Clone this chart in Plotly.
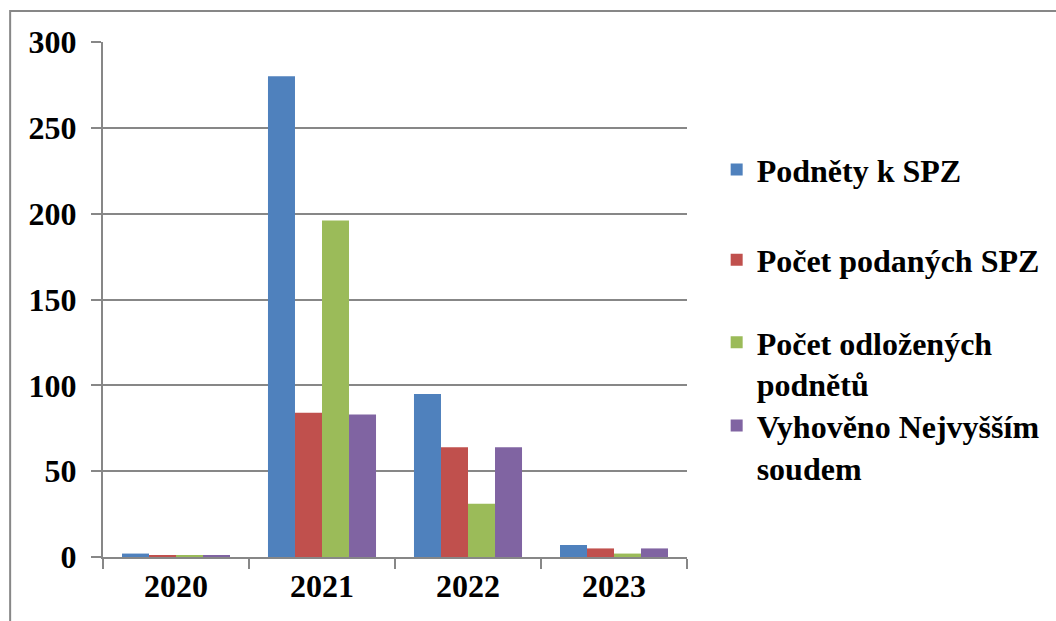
import plotly.graph_objects as go

years = ["2020", "2021", "2022", "2023"]
series_names = ["Podněty k SPZ", "Počet podaných SPZ", "Počet odložených<br>podnětů", "Vyhověno Nejvyšším<br>soudem"]
podnety = [2, 280, 95, 7]
podane = [1, 84, 64, 5]
odlozene = [1, 196, 31, 2]
vyhoveno = [1, 83, 64, 5]
y_ticks = [0, 50, 100, 150, 200, 250, 300]

colors = ["#4F81BD", "#C0504D", "#9BBB59", "#8064A2"]
values = [podnety, podane, odlozene, vyhoveno]
legend_ids = ["legend", "legend2", "legend3", "legend4"]
legend_y = [0.752, 0.577, 0.376, 0.214]

FONT = "Liberation Serif, Times New Roman, serif"
GRAY = "#878787"

fig = go.Figure()
for name, vals, col, lid in zip(series_names, values, colors, legend_ids):
    fig.add_trace(go.Bar(x=years, y=vals, name=name, marker=dict(color=col, line=dict(width=0)),
                         legend=lid))

legend_common = dict(font=dict(family=FONT, size=32, color="black", weight="bold"),
                     bgcolor="rgba(0,0,0,0)", xanchor="left", yanchor="middle", valign="top",
                     itemclick=False)
layout_legends = {}
for lid, ly in zip(legend_ids, legend_y):
    layout_legends[lid] = dict(x=1.049, y=ly, **legend_common)

fig.update_layout(
    width=1056, height=621,
    margin=dict(l=103, r=368, t=42, b=64),
    paper_bgcolor="white", plot_bgcolor="white",
    barmode="group", bargap=0.26, bargroupgap=0,
    showlegend=True,
    font=dict(family=FONT, color="black", weight="bold"),
    xaxis=dict(type="category", showline=True, linecolor=GRAY, linewidth=2,
               ticks="outside", tickson="boundaries", ticklen=10, tickwidth=2, tickcolor=GRAY,
               tickfont=dict(family=FONT, size=32, color="black", weight="bold"),
               showgrid=False),
    yaxis=dict(range=[0, 300], tickvals=y_ticks, showline=True, linecolor=GRAY, linewidth=2,
               ticks="outside", ticklen=10, tickwidth=2, tickcolor=GRAY,
               showgrid=True, gridcolor=GRAY, gridwidth=2, zeroline=False,
               tickfont=dict(family=FONT, size=32, color="black", weight="bold"),
               ticklabelstandoff=8),
    shapes=[dict(type="rect", xref="paper", yref="paper", x0=-0.159, x1=1.8, y0=-0.3, y1=1.06,
                 line=dict(color=GRAY, width=2), fillcolor="rgba(0,0,0,0)", layer="below")],
    **layout_legends,
)

fig.write_html("out.html", config={"displayModeBar": False})
with open("out.html", encoding="utf-8") as f:
    html = f.read()
html = html.replace("<body>", '<body style="margin:0;overflow:hidden">', 1)
with open("out.html", "w", encoding="utf-8") as f:
    f.write(html)
